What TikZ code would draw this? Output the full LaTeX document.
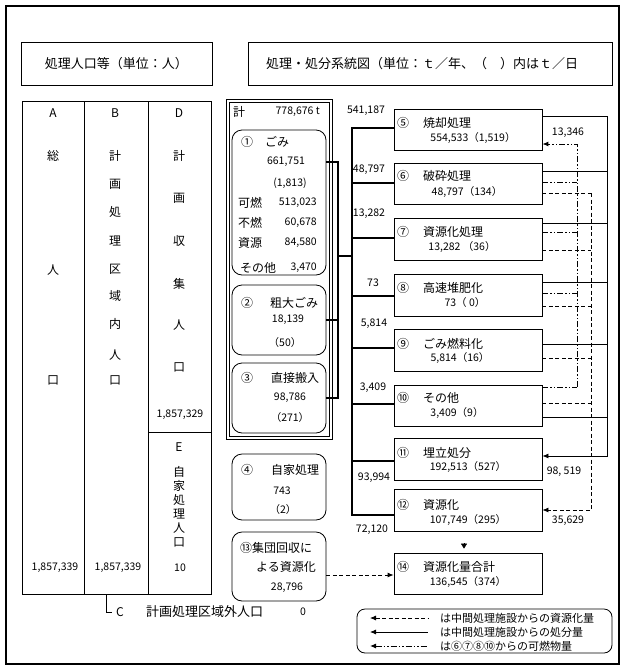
\documentclass[tikz,border=0pt]{standalone}
\usepackage{fontspec}
\setmainfont{Noto Sans CJK JP}
\usetikzlibrary{arrows.meta}
\begin{document}
\begin{tikzpicture}[x=1pt,y=-1pt,
  jp/.style={font=\fontsize{12}{14}\selectfont, inner sep=0pt},
  jpl/.style={font=\fontsize{13}{15}\selectfont, inner sep=0pt},
  jps/.style={font=\fontsize{11}{13}\selectfont, inner sep=0pt},
  nm/.style={font=\fontsize{10.5}{12}\selectfont, inner sep=0pt},
  box/.style={draw, line width=0.8pt, inner sep=0pt},
  rbox/.style={box, rounded corners=10pt},
  bus/.style={line width=2.2pt},
  solidflow/.style={line width=0.8pt},
  resflow/.style={line width=0.8pt, dash pattern=on 4pt off 2.5pt},
  burnflow/.style={line width=1pt, dash pattern=on 6pt off 2pt on 1.5pt off 2pt on 1.5pt off 2pt},
  tip/.style={-{Latex[length=6pt,width=5pt]}}
]
\useasboundingbox (0,0) rectangle (625,670);
\draw[line width=2.6pt] (6,6) rectangle (619,664);

% headers
\node[box, minimum width=191pt, minimum height=43pt] (hL) at (116.5,63.5) {};
\node[jpl] (hLt) at (116.5,64) {処理人口等（単位：人）};
\node[box, minimum width=364pt, minimum height=43pt] (hR) at (430,63.5) {};
\node[jpl, anchor=west] (hRt) at (266,64) {処理・処分系統図（単位：ｔ／年、（　）内はｔ／日};

% population table
\draw[line width=0.8pt] (22,101) rectangle (211,594);
\draw[line width=0.8pt] (84,101) -- (84,594);
\draw[line width=0.8pt] (148,101) -- (148,594);
\draw[line width=0.8pt] (148,432) -- (211,432);
\foreach \t/\y [count=\i] in {A/113,総/156,人/270,口/380}
  \node[jp, name=a\i] at (53,\y) {\t};
\node[nm] (a5) at (55,568) {1,857,339};
\foreach \t/\y [count=\i] in {B/113,計/156,画/184,処/212,理/241,区/269,域/296,内/324,人/355,口/380}
  \node[jp, name=b\i] at (115,\y) {\t};
\node[nm] (b11) at (118,568) {1,857,339};
\foreach \t/\y [count=\i] in {D/113,計/156,画/198,収/241,集/284,人/325,口/367}
  \node[jp, name=d\i] at (179,\y) {\t};
\node[nm] (d8) at (180,415) {1,857,329};
\foreach \t/\y [count=\i] in {E/447,自/472,家/486,処/500,理/514,人/528,口/542}
  \node[jp, name=e\i] at (179,\y) {\t};
\node[nm] (e8) at (180,568) {10};
\coordinate (cA) at (106,594);
\coordinate (cB) at (112,612);
\draw[line width=0.8pt] (cA) |- (cB);
\node[jp, anchor=west] (cL) at (116,612) {C};
\node[jpl, anchor=west] (cT) at (146,612) {計画処理区域外人口};
\node[nm] (c0) at (303,612) {0};

% middle column
\draw[line width=0.8pt] (226,99) rectangle (332,439);
\draw[line width=0.8pt] (229,102) rectangle (329,436);
\node[jp] (kei) at (239,112) {計};
\node[nm, anchor=east] (keiv) at (320,112) {778,676 t};

\node[rbox, minimum width=94pt, minimum height=145pt] (n1) at (279,202.5) {};
\node[jp] (n1c) at (247,142) {①};
\node[jp] (n1t) at (277,142) {ごみ};
\node[nm] (n1v) at (286,162) {661,751};
\node[nm] (n1d) at (290,183) {(1,813)};
\node[jp] (n1a) at (250,203) {可燃};
\node[nm, anchor=east] (n1av) at (317,203) {513,023};
\node[jp] (n1b) at (250,223) {不燃};
\node[nm, anchor=east] (n1bv) at (317,223) {60,678};
\node[jp] (n1r) at (250,243) {資源};
\node[nm, anchor=east] (n1rv) at (317,243) {84,580};
\node[jp] (n1o) at (258,268) {その他};
\node[nm, anchor=east] (n1ov) at (317,268) {3,470};

\node[rbox, minimum width=94pt, minimum height=70pt] (n2) at (279,320) {};
\node[jp] (n2c) at (247,303) {②};
\node[jp] (n2t) at (294,303) {粗大ごみ};
\node[nm] (n2v) at (288,320) {18,139};
\node[nm] (n2d) at (285,343) {（50）};

\node[rbox, minimum width=94pt, minimum height=70pt] (n3) at (279,398) {};
\node[jp] (n3c) at (247,378) {③};
\node[jp] (n3t) at (295,378) {直接搬入};
\node[nm] (n3v) at (290,398) {98,786};
\node[nm] (n3d) at (290,418) {（271）};

\node[rbox, minimum width=94pt, minimum height=66pt] (n4) at (279,487) {};
\node[jp] (n4c) at (247,470) {④};
\node[jp] (n4t) at (295,470) {自家処理};
\node[nm] (n4v) at (282,491) {743};
\node[nm] (n4d) at (283,510) {（2）};

\node[rbox, minimum width=94pt, minimum height=69pt] (n13) at (279,566.5) {};
\node[jp] (n13t) at (276,548) {⑬集団回収に};
\node[jp] (n13u) at (286,567) {よる資源化};
\node[nm] (n13v) at (287,588) {28,796};

% right boxes
\foreach \nm/\cy/\h/\c/\t/\ty/\v/\vx/\vy in {
  n5/129.5/41/⑤/焼却処理/123/{554,533（1,519）}/473/138,
  n6/183.5/41/⑥/破砕処理/176/{48,797（134）}/467/192,
  n7/239/42/⑦/資源化処理/232/{13,282 （36）}/462/247,
  n8/295/42/⑧/高速堆肥化/288/{73（ 0）}/465/303,
  n9/350/42/⑨/ごみ燃料化/344/{5,814（16）}/460/358,
  n10/405.5/41/⑩/その他/398/{3,409（9）}/457/413,
  n11/459/42/⑪/埋立処分/453/{192,513（527）}/468/467,
  n12/510/42/⑫/資源化/505/{107,749（295）}/468/520,
  n14/573.5/41/⑭/資源化量合計/567/{136,545（374）}/468/582}
{
  \node[box, minimum width=148pt, minimum height=\h pt] (\nm) at (468,\cy) {};
  \node[jp] (\nm c) at (403,\ty) {\c};
  \node[jp, anchor=west] (\nm t) at (423,\ty) {\t};
  \node[nm] (\nm v) at (\vx,\vy) {\v};
}

% thick input connectors
\draw[bus] (n1.east |- 0,162) -| (338,398) -- (n3.east);
\draw[bus] (n2.east) -- (338,320);
\draw[bus] (338,256) -- (352,256);
\draw[bus] (n5.west |- 0,128) -- (352,128) -- (352,515) -- (n12.west |- 0,515);
\foreach \n/\y in {n6/183,n7/238,n8/296,n9/348,n10/404,n11/461}
  \draw[bus] (352,\y) -- (\n.west |- 0,\y);
\node[nm] (l5) at (366,111) {541,187};
\node[nm] (l6) at (369,170) {48,797};
\node[nm] (l7) at (369,214) {13,282};
\node[nm] (l8) at (373,283) {73};
\node[nm] (l9) at (374,324) {5,814};
\node[nm] (l10) at (373,388) {3,409};
\node[nm] (l11) at (374,478) {93,994};
\node[nm] (l12) at (372,530) {72,120};

% disposal flows (solid)
\foreach \n/\y in {n5/116,n6/171,n7/223,n8/282,n9/344,n10/417}
  \draw[solidflow] (\n.east |- 0,\y) -- (607,\y);
\draw[solidflow, tip] (607,116) -- (607,456) -- (n11.east |- 0,456);
\node[nm] (f11) at (564,472) {98, 519};

% resource flows (dashed)
\foreach \n/\y in {n6/193,n7/250,n8/306,n9/358,n10/403}
  \draw[resflow] (\n.east |- 0,\y) -- (591,\y);
\draw[resflow, tip] (591,193) -- (591,510) -- (n12.east |- 0,510);
\node[nm] (f12) at (568,521) {35,629};

% combustible flows
\foreach \n/\y in {n6/182,n7/232,n8/293,n10/387}
  \draw[burnflow] (\n.east |- 0,\y) -- (577,\y);
\draw[burnflow, tip] (577,387) -- (577,144) -- (n5.east |- 0,144);
\node[nm] (f5) at (568,133) {13,346};

% to total
\draw[-{Triangle[length=5pt,width=6pt]}, shorten <=12pt, shorten >=4pt] (n12.south -| 464,0) -- (n14.north -| 464,0);
\draw[resflow, tip] (n13.east |- 0,575) -- (n14.west |- 0,575);

% legend
\node[box, rounded corners=8pt, minimum width=255pt, minimum height=44pt] (leg) at (484.5,631) {};
\coordinate (g1a) at (370,618); \coordinate (g1b) at (428,618);
\coordinate (g2a) at (370,632); \coordinate (g2b) at (428,632);
\coordinate (g3a) at (370,646); \coordinate (g3b) at (428,646);
\draw[resflow, {Latex[length=6pt,width=5pt]}-] (g1a) -- (g1b);
\draw[solidflow, {Latex[length=6pt,width=5pt]}-] (g2a) -- (g2b);
\draw[burnflow, {Latex[length=6pt,width=5pt]}-] (g3a) -- (g3b);
\node[jps, anchor=west] (g1t) at (440,618) {は中間処理施設からの資源化量};
\node[jps, anchor=west] (g2t) at (440,632) {は中間処理施設からの処分量};
\node[jps, anchor=west] (g3t) at (440,646) {は⑥⑦⑧⑩からの可燃物量};
\end{tikzpicture}
\end{document}
